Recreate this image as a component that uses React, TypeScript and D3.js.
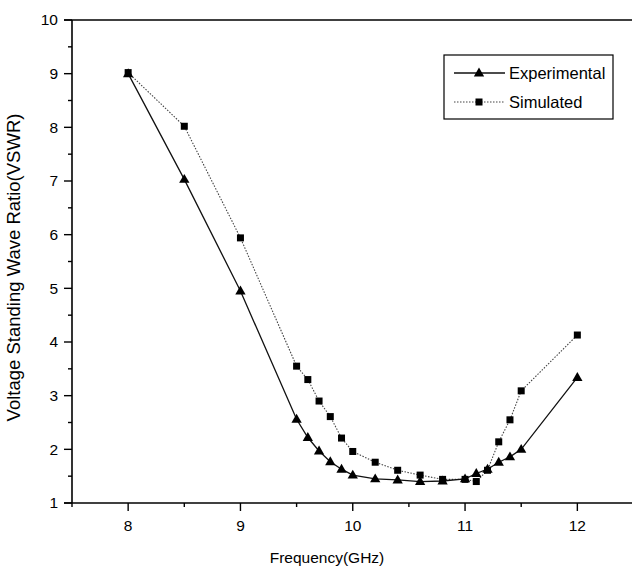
import React from "react";
import * as d3 from "d3";

// Measured VSWR against frequency (GHz)
const freqs = [8, 8.5, 9, 9.5, 9.6, 9.7, 9.8, 9.9, 10, 10.2, 10.4, 10.6, 10.8, 11, 11.1, 11.2, 11.3, 11.4, 11.5, 12];
const experimental = [9.0, 7.03, 4.95, 2.56, 2.22, 1.97, 1.77, 1.63, 1.52, 1.45, 1.43, 1.4, 1.41, 1.45, 1.55, 1.63, 1.76, 1.86, 2.0, 3.34];
const simulated = [9.02, 8.02, 5.94, 3.55, 3.3, 2.9, 2.61, 2.21, 1.96, 1.76, 1.61, 1.52, 1.44, 1.44, 1.4, 1.61, 2.14, 2.55, 3.09, 4.13];

const xMajor = [8, 9, 10, 11, 12];
const xMinor = [7.5, 8.5, 9.5, 10.5, 11.5];
const yMajor = [1, 2, 3, 4, 5, 6, 7, 8, 9, 10];
const yMinor = [1.5, 2.5, 3.5, 4.5, 5.5, 6.5, 7.5, 8.5, 9.5];

const seriesNames = ["Experimental", "Simulated"];

const W = 632;
const H = 571;
const left = 72;
const right = 633.5;
const top = 20;
const bottom = 503;
const font = "Arial, 'Liberation Sans', sans-serif";

export default function App() {
  const x = d3.scaleLinear().domain([7.5, 12.5]).range([left, right]);
  const y = d3.scaleLinear().domain([1, 10]).range([bottom, top]);

  const line = d3
    .line<[number, number]>()
    .x((d) => x(d[0]))
    .y((d) => y(d[1]));

  const expPts: [number, number][] = freqs.map((f, i) => [f, experimental[i]]);
  const simPts: [number, number][] = freqs.map((f, i) => [f, simulated[i]]);

  const tri = d3.symbol(d3.symbolTriangle, 46)() as string;
  const sq = (cx: number, cy: number, s: number) => (
    <rect x={cx - s / 2} y={cy - s / 2} width={s} height={s} fill="#000" />
  );

  const legendX = 444;
  const legendY = 55;

  return (
    <div style={{ position: "fixed", left: 0, top: 0 }}>
      <svg width={W} height={H} style={{ display: "block", background: "#fff" }} fontFamily={font}>
        <rect width={W} height={H} fill="#fff" />

        {/* series lines */}
        <path d={line(simPts) as string} fill="none" stroke="#444" strokeWidth={1.1} strokeDasharray="1.5,1.5" />
        <path d={line(expPts) as string} fill="none" stroke="#111" strokeWidth={1.3} />

        {/* markers */}
        {simPts.map((d, i) => (
          <g key={"s" + i}>{sq(x(d[0]), y(d[1]), 7)}</g>
        ))}
        {expPts.map((d, i) => (
          <path key={"e" + i} d={tri} transform={`translate(${x(d[0])},${y(d[1]) + 0.5})`} fill="#000" />
        ))}

        {/* axes frame */}
        <line x1={left} x2={left} y1={top} y2={bottom} stroke="#000" strokeWidth={1.6} />
        <line x1={left - 8} x2={W} y1={bottom} y2={bottom} stroke="#000" strokeWidth={1.6} />
        <line x1={left - 8} x2={W} y1={top} y2={top} stroke="#000" strokeWidth={1.6} />

        {/* y ticks */}
        {yMajor.map((v) => (
          <g key={"ym" + v}>
            <line x1={left - 8} x2={left} y1={y(v)} y2={y(v)} stroke="#000" strokeWidth={1.4} />
            <text x={left - 14} y={y(v)} dy="0.35em" textAnchor="end" fontSize={15.5}>
              {v}
            </text>
          </g>
        ))}
        {yMinor.map((v) => (
          <line key={"yn" + v} x1={left - 4} x2={left} y1={y(v)} y2={y(v)} stroke="#000" strokeWidth={1.4} />
        ))}

        {/* x ticks */}
        {xMajor.map((v) => (
          <g key={"xm" + v}>
            <line x1={x(v)} x2={x(v)} y1={bottom} y2={bottom + 8} stroke="#000" strokeWidth={1.4} />
            <text x={x(v)} y={bottom + 28} textAnchor="middle" fontSize={15.5}>
              {v}
            </text>
          </g>
        ))}
        {xMinor.map((v) => (
          <line key={"xn" + v} x1={x(v)} x2={x(v)} y1={bottom} y2={bottom + 4} stroke="#000" strokeWidth={1.4} />
        ))}

        {/* axis titles */}
        <text x={327} y={bottom + 60} textAnchor="middle" fontSize={15.5}>
          Frequency(GHz)
        </text>
        <text
          transform={`translate(20,${(top + bottom) / 2 + 6}) rotate(-90)`}
          textAnchor="middle"
          fontSize={18.5}
        >
          Voltage Standing Wave Ratio(VSWR)
        </text>

        {/* legend */}
        <rect x={legendX} y={legendY} width={169} height={64} fill="#fff" stroke="#000" strokeWidth={1.2} />
        <line x1={454} x2={505} y1={73} y2={73} stroke="#111" strokeWidth={1.3} />
        <path d={tri} transform="translate(479,73.5)" fill="#000" />
        <text x={509} y={73} dy="0.35em" fontSize={16.5}>
          {seriesNames[0]}
        </text>
        <line x1={454} x2={505} y1={102} y2={102} stroke="#444" strokeWidth={1.1} strokeDasharray="1.5,1.5" />
        {sq(479, 102, 7)}
        <text x={509} y={102} dy="0.35em" fontSize={16.5}>
          {seriesNames[1]}
        </text>
      </svg>
    </div>
  );
}
